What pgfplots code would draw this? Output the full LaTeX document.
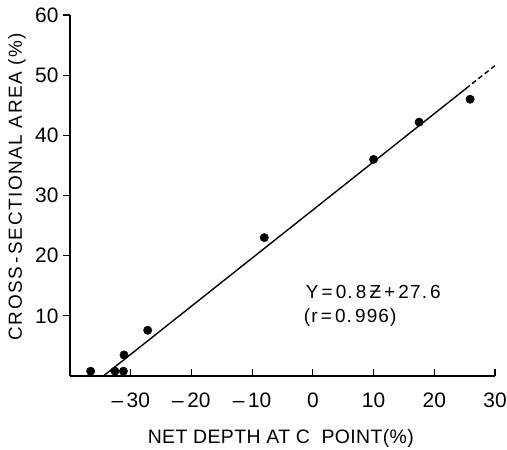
\documentclass[border=0pt]{standalone}
\usepackage{pgfplots}
\pgfplotsset{compat=1.18}
\usepackage{fontspec}
\setmainfont{Liberation Sans}
\begin{document}
\begin{tikzpicture}
\begin{axis}[
  scale only axis, width=425bp, height=361bp,
  xmin=-40, xmax=30, ymin=0, ymax=60,
  axis lines=left, axis line style={-, line width=1.3pt},
  xtick={-30,-20,-10,0,10,20,30},
  xticklabels={--\,30,--\,20,--\,10,0,10,20,30},
  ytick={10,20,30,40,50,60},
  xtick align=inside, ytick align=outside,
  major tick length=7bp,
  tick style={black, line width=1.2pt},
  tick label style={font=\fontsize{21}{21}\selectfont},
  xticklabel style={yshift=-13bp},
  yticklabel style={xshift=-1bp},
  /pgf/number format/assume math mode=true,
  xlabel={NET DEPTH AT C\ \ POINT(\%)},
  ylabel={CROSS\,-\,SECTIONAL AREA (\%)},
  xlabel style={font=\fontsize{19.5}{19.5}\selectfont\addfontfeature{LetterSpace=2},
    at={(axis description cs:0.496,0)}, anchor=center, yshift=-62bp},
  ylabel style={font=\fontsize{19}{19}\selectfont\addfontfeature{LetterSpace=8},
    at={(axis description cs:-0.125,0.525)}, anchor=center},
  clip=false,
]
% regression line
\addplot[black, line width=1.4pt] coordinates {(-34.5,0) (25.2,47.76)};
\addplot[black, line width=1.4pt, dash pattern=on 5bp off 3bp] coordinates {(25.2,47.76) (30.3,51.84)};
% measured points
\addplot[only marks, mark=*, mark size=4.2bp, black] coordinates
  {(-36.6,0.8) (-32.6,0.8) (-31.2,0.8) (-31.1,3.5) (-27.2,7.6)
   (-8.0,23.0) (10.0,36.0) (17.5,42.2) (25.9,46.0)};
\node[anchor=west, inner sep=0pt, font=\fontsize{19}{19}\selectfont\addfontfeature{LetterSpace=6}] at (axis cs:-1.2,14) {Y\,=\,0.\,8\,Ƶ\,+\,27.\,6};
\node[anchor=west, inner sep=0pt, font=\fontsize{19}{19}\selectfont\addfontfeature{LetterSpace=6}] at (axis cs:-1.5,9.75) {(r\,=\,0.\,996)};
\end{axis}
\pgfresetboundingbox
\useasboundingbox ([shift={(-70bp,-74bp)}]current axis.south west) rectangle ([shift={(12bp,15bp)}]current axis.north east);
\end{tikzpicture}
\end{document}
